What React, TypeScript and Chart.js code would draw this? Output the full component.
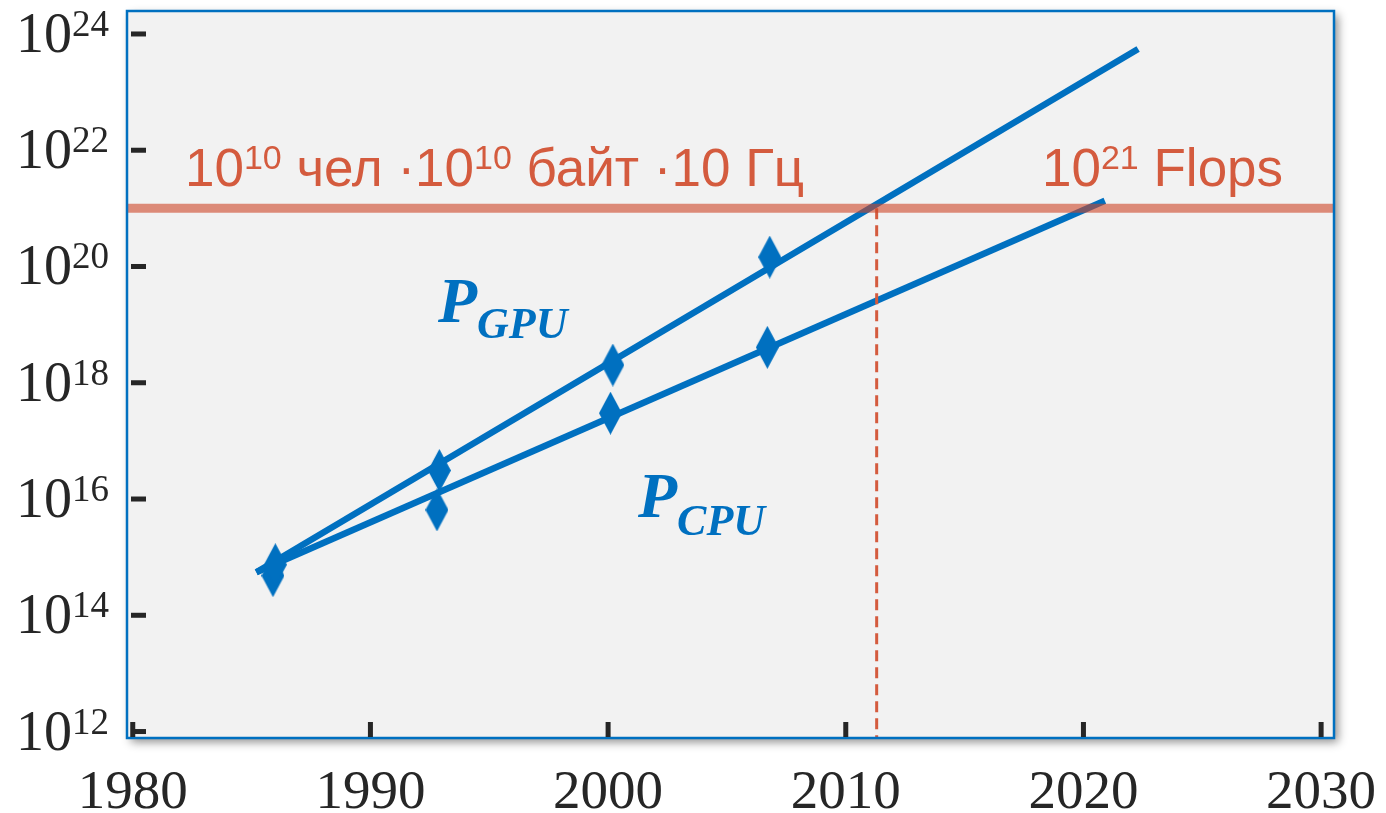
import React, { useEffect, useRef } from "react";
import { Chart, registerables } from "chart.js";

Chart.register(...registerables);

// ---- data ----
const markerYearsGpu = [1986.0, 1992.9, 2000.2, 2006.8];
const markerGpu = [7.4e14, 3.1e16, 2.02e18, 1.45e20];
const markerYearsCpu = [1985.9, 1992.8, 2000.1, 2006.7];
const markerCpu = [4.8e14, 6.5e15, 3.0e17, 4.07e18];

const trendYearsGpu = [1985.2, 2022.3];
const trendGpu = [5.5e14, 5.5e23];
const trendYearsCpu = [1985.2, 2020.9];
const trendCpu = [5.5e14, 1.35e21];

const thresholdValue = 1e21;
const crossingYear = 2011.3;

const xTickValues = [1980, 1990, 2000, 2010, 2020, 2030];
const xTickLabels = ["1980", "1990", "2000", "2010", "2020", "2030"];
const yTickValues = [1e12, 1e14, 1e16, 1e18, 1e20, 1e22, 1e24];
const yTickExponents = ["12", "14", "16", "18", "20", "22", "24"];

const X_MIN = 1979.8;
const X_MAX = 2030.5;
const Y_MIN = Math.pow(10, 11.906);
const Y_MAX = Math.pow(10, 24.378);

const BLUE = "#0070C0";
const RED = "#D45B3E";
const DARK = "#262626";
const SERIF = "'Liberation Serif', 'Times New Roman', serif";
const SANS = "'Liberation Sans', Arial, sans-serif";

type Part = { text: string; font: string; dy?: number };

function drawParts(ctx: CanvasRenderingContext2D, x: number, y: number, parts: Part[], align: "left" | "right" | "center") {
  const widths = parts.map((p) => {
    ctx.font = p.font;
    return ctx.measureText(p.text).width;
  });
  const total = widths.reduce((a, b) => a + b, 0);
  let cx = align === "right" ? x - total : align === "center" ? x - total / 2 : x;
  ctx.textAlign = "left";
  ctx.textBaseline = "alphabetic";
  parts.forEach((p, i) => {
    ctx.font = p.font;
    ctx.fillText(p.text, cx, y + (p.dy || 0));
    cx += widths[i];
  });
}

function makeDiamond(): HTMLCanvasElement {
  const c = document.createElement("canvas");
  c.width = 23;
  c.height = 43;
  const g = c.getContext("2d")!;
  g.fillStyle = BLUE;
  g.beginPath();
  g.moveTo(11.5, 0);
  g.lineTo(23, 21.5);
  g.lineTo(11.5, 43);
  g.lineTo(0, 21.5);
  g.closePath();
  g.fill();
  return c;
}

const framePlugin = {
  id: "frame",
  beforeDraw(chart: any) {
    const { ctx, chartArea } = chart;
    const { left, top, right, bottom } = chartArea;
    ctx.save();
    ctx.shadowColor = "rgba(0,0,0,0.45)";
    ctx.shadowBlur = 9;
    ctx.shadowOffsetX = 4;
    ctx.shadowOffsetY = 4;
    ctx.fillStyle = "#F2F2F2";
    ctx.fillRect(left - 1, top - 1, right - left + 2, bottom - top + 2);
    ctx.restore();
  },
  afterDraw(chart: any) {
    const { ctx, chartArea, scales } = chart;
    const { left, top, right, bottom } = chartArea;
    const xs = scales.x;
    const ys = scales.y;
    ctx.save();
    // border
    ctx.strokeStyle = BLUE;
    ctx.lineWidth = 2.5;
    ctx.strokeRect(left - 1, top - 1, right - left + 2, bottom - top + 2);

    // y ticks + labels
    yTickValues.forEach((v, i) => {
      const py = ys.getPixelForValue(v);
      ctx.fillStyle = DARK;
      ctx.fillRect(left + 3, py - 2.5, 15, 5);
      drawParts(ctx, 109, py + 18, [
        { text: "10", font: `56px ${SERIF}` },
        { text: yTickExponents[i], font: `37px ${SERIF}`, dy: -16 },
      ], "right");
    });
    // x ticks + labels
    xTickValues.forEach((v, i) => {
      const px = xs.getPixelForValue(v);
      ctx.fillStyle = DARK;
      ctx.fillRect(px - 2.5, bottom - 15, 5, 15);
      drawParts(ctx, px, 808, [{ text: xTickLabels[i], font: `55px ${SERIF}` }], "center");
    });

    // annotations
    ctx.fillStyle = RED;
    const big = `53px ${SANS}`;
    const sup = `34px ${SANS}`;
    drawParts(ctx, 185, 186, [
      { text: "10", font: big },
      { text: "10", font: sup, dy: -17 },
      { text: " чел ·10", font: big },
      { text: "10", font: sup, dy: -17 },
      { text: " байт ·10 Гц", font: big },
    ], "left");
    drawParts(ctx, 1042, 186, [
      { text: "10", font: big },
      { text: "21", font: sup, dy: -17 },
      { text: " Flops", font: big },
    ], "left");

    ctx.fillStyle = BLUE;
    drawParts(ctx, 438, 322, [
      { text: "P", font: `italic bold 64px ${SERIF}` },
      { text: "GPU", font: `italic bold 44px ${SERIF}`, dy: 16 },
    ], "left");
    drawParts(ctx, 638, 517, [
      { text: "P", font: `italic bold 64px ${SERIF}` },
      { text: "CPU", font: `italic bold 44px ${SERIF}`, dy: 18 },
    ], "left");
    ctx.restore();
  },
};

export default function App() {
  const ref = useRef<HTMLCanvasElement | null>(null);
  useEffect(() => {
    document.body.style.margin = "0";
    const canvas = ref.current!;
    const diamond = makeDiamond();
    const pts = (xs: number[], ys: number[]) => xs.map((x, i) => ({ x, y: ys[i] }));
    const chart = new Chart(canvas, {
      type: "scatter",
      data: {
        datasets: [
          {
            label: "threshold",
            data: [{ x: X_MIN, y: thresholdValue }, { x: X_MAX, y: thresholdValue }],
            showLine: true,
            borderColor: "rgba(205,69,39,0.6)",
            borderWidth: 9,
            pointRadius: 0,
          },
          {
            label: "crossing",
            data: [{ x: crossingYear, y: thresholdValue }, { x: crossingYear, y: Y_MIN }],
            showLine: true,
            borderColor: RED,
            borderWidth: 3,
            borderDash: [11, 6],
            pointRadius: 0,
          },
          {
            label: "GPU points",
            data: pts(markerYearsGpu, markerGpu),
            pointStyle: diamond as any,
            pointRadius: 11,
            showLine: false,
          },
          {
            label: "CPU points",
            data: pts(markerYearsCpu, markerCpu),
            pointStyle: diamond as any,
            pointRadius: 11,
            showLine: false,
          },
          {
            label: "GPU",
            data: pts(trendYearsGpu, trendGpu),
            showLine: true,
            borderColor: BLUE,
            borderWidth: 6.5,
            pointRadius: 0,
          },
          {
            label: "CPU",
            data: pts(trendYearsCpu, trendCpu),
            showLine: true,
            borderColor: BLUE,
            borderWidth: 6.5,
            pointRadius: 0,
          },
        ],
      },
      options: {
        responsive: false,
        animation: false,
        layout: { padding: { left: 128, top: 11, right: 53, bottom: 76 } },
        plugins: { legend: { display: false }, tooltip: { enabled: false } },
        scales: {
          x: { type: "linear", min: X_MIN, max: X_MAX, display: false },
          y: { type: "logarithmic", min: Y_MIN, max: Y_MAX, display: false },
        },
      },
      plugins: [framePlugin],
    });
    return () => chart.destroy();
  }, []);
  return (
    <div style={{ position: "absolute", left: 0, top: 0, width: 1386, height: 813, background: "#fff" }}>
      <canvas ref={ref} width={1386} height={813} />
    </div>
  );
}
